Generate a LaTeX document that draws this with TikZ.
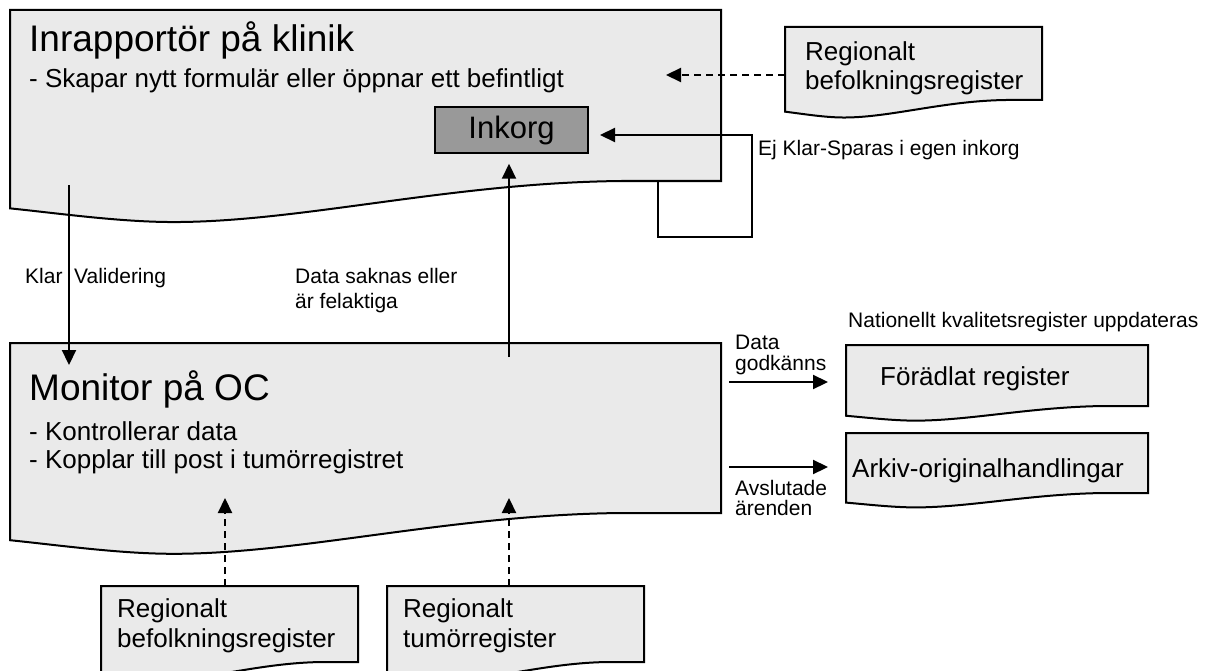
\documentclass[tikz,border=0pt]{standalone}
\usepackage{fontspec}
\setmainfont{Liberation Sans}
\usetikzlibrary{arrows.meta}
\definecolor{docgray}{HTML}{EAEAEA}
\definecolor{boxgray}{HTML}{999999}
\tikzset{
  doc/.style={draw=black, line width=2pt, fill=docgray, line join=miter},
  frame/.style={inner sep=0pt, outer sep=0pt, anchor=north west},
  flow/.style={line width=2.2pt, -{Triangle[width=14pt,length=15pt]}},
  dflow/.style={flow, dash pattern=on 7pt off 5pt},
  title/.style={inner sep=0pt, anchor=base west, font=\fontsize{37}{42}\selectfont},
  body/.style={inner sep=0pt, anchor=base west, font=\fontsize{26}{30}\selectfont},
  lbl/.style={inner sep=0pt, anchor=base west, font=\fontsize{21}{25}\selectfont},
  inbox/.style={draw=black, line width=1.5pt, fill=boxgray, minimum width=153pt,
    minimum height=46pt, inner sep=0pt, font=\fontsize{31}{35}\selectfont},
}
% document symbol: rectangle whose lower edge is a wave
% #1 name, (#2,#3) upper left corner, (#4,#5) lower right corner of the straight side
\newcommand\docshape[5]{%
  \pgfmathsetmacro\dw{#4-#2}%
  \pgfmathsetmacro\dh{#5-#3}%
  \filldraw[doc] (#2,#3) -- (#4,#3) -- (#4,#5) -- ({#2+0.86*\dw},#5)
    .. controls ({#2+0.62*\dw},{#5+0.01*\dh}) and ({#2+0.41*\dw},{#5+0.24*\dh})
    .. ({#2+0.23*\dw},{#5+0.24*\dh})
    .. controls ({#2+0.155*\dw},{#5+0.24*\dh}) and ({#2+0.07*\dw},{#5+0.19*\dh})
    .. (#2,{#5+0.16*\dh}) -- cycle;
  \node[frame, minimum width=\dw pt, minimum height=\dh pt] (#1) at (#2,#3) {};
}
\begin{document}
\begin{tikzpicture}[x=1pt,y=-1pt]
\useasboundingbox[fill=white] (0,0) rectangle (1214,671);

% main documents
\docshape{klinik}{10}{10}{721}{181}
\docshape{monitor}{10}{343}{721}{513}

% register documents
\docshape{regbef}{785}{27}{1042}{100}
\docshape{regbefb}{101}{586}{358}{662}
\docshape{regtum}{387}{586}{644}{662}
\docshape{foradlat}{846}{345}{1148}{406}
\docshape{arkiv}{846}{433}{1148}{493}

% texts in the documents
\node[title] (klinikT) at (29,52) {Inrapportör på klinik};
\node[body] (klinikS) at (29,88) {- Skapar nytt formulär eller öppnar ett befintligt};
\node[inbox] (inkorg) at (511.5,130) {Inkorg};

\node[title] (monitorT) at (29,400) {Monitor på OC};
\node[body] (monitorS1) at (29,440) {- Kontrollerar data};
\node[body] (monitorS2) at (29,468) {- Kopplar till post i tumörregistret};

\node[body] (regbefT1) at (805,61) {Regionalt};
\node[body] (regbefT2) at (805,90) {befolkningsregister};
\node[body] (regbefbT1) at (117,617) {Regionalt};
\node[body] (regbefbT2) at (117,647) {befolkningsregister};
\node[body] (regtumT1) at (403,617) {Regionalt};
\node[body] (regtumT2) at (403,647) {tumörregister};
\node[body] (foradlatT) at (880,385) {Förädlat register};
\node[body] (arkivT) at (852,477) {Arkiv-originalhandlingar};

% connector end points
\coordinate (klarA) at (69,185);
\coordinate (klarB) at (69,365);
\coordinate (returA) at (509,357);
\coordinate (loopA) at (658,181);
\coordinate (loopB) at (752,237);
\coordinate (loopC) at (600,135);
\coordinate (befIn) at (666,75);
\coordinate (befbIn) at (225,498);
\coordinate (tumIn) at (509,498);
\coordinate (godA) at (729,382);
\coordinate (godB) at (828,382);
\coordinate (avsA) at (729,467);
\coordinate (avsB) at (828,467);

% connectors
\draw[flow] (klarA) -- (klarB);
\draw[flow, shorten >=10pt] (returA) -- (returA |- inkorg.south);
\draw[flow] (loopA) -- (loopA |- loopB) -- (loopB) -- (loopB |- loopC) -- (loopC);
\draw[dflow] (regbef.west |- befIn) -- (befIn);
\draw[dflow] (regbefb.north -| befbIn) -- (befbIn);
\draw[dflow] (regtum.north -| tumIn) -- (tumIn);
\draw[flow] (godA) -- (godB);
\draw[flow] (avsA) -- (avsB);

% connector labels
\node[lbl] (klarL) at (25,283) {Klar};
\node[lbl] (validL) at (74,283) {Validering};
\node[lbl] (saknasL1) at (295,283) {Data saknas eller};
\node[lbl] (saknasL2) at (295,308) {är felaktiga};
\node[lbl] (ejklarL) at (758,156) {Ej Klar-Sparas i egen inkorg};
\node[lbl] (natL) at (848,327) {Nationellt kvalitetsregister uppdateras};
\node[lbl] (godL1) at (735,349) {Data};
\node[lbl] (godL2) at (735,370) {godkänns};
\node[lbl] (avsL1) at (735,495) {Avslutade};
\node[lbl] (avsL2) at (735,515) {ärenden};
\end{tikzpicture}
\end{document}
